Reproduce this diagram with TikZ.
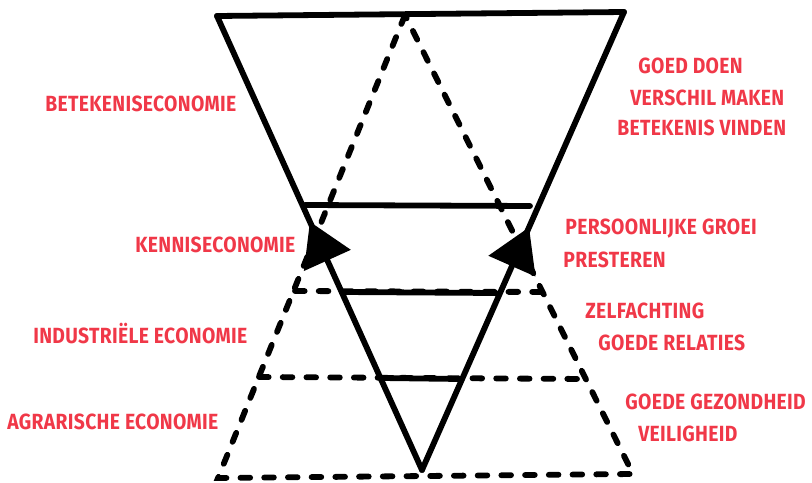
\documentclass[tikz,border=0pt]{standalone}
\usepackage{fontspec}
\setmainfont[FakeStretch=0.88,LetterSpace=1.5]{Fira Sans}
\usetikzlibrary{arrows.meta,decorations.markings}
\definecolor{labelred}{RGB}{240,56,72}
\tikzset{
	solidline/.style={line width=3.3pt, line cap=round, line join=round},
	dashline/.style={line width=3.3pt, line cap=round, dash pattern=on 5.5pt off 8pt},
	label/.style={text=labelred, font=\bfseries\fontsize{12.5}{14}\selectfont, inner sep=0pt, anchor=west},
	uparrow/.style={decoration={markings, mark=at position #1 with {\arrow{Triangle[length=0.85cm,width=1cm]}}}, postaction={decorate}}
}
\begin{document}
\begin{tikzpicture}[x=0.02cm,y=-0.02cm]
		\useasboundingbox (0,0) rectangle (812,483);
		% omgekeerde driehoek
		\coordinate (tl) at (217,16);
		\coordinate (tr) at (624,12);
		\coordinate (bot) at (422,470);
		\draw[solidline] (tl) -- (tr);
		\draw[solidline, uparrow=0.547] (bot) -- (tl);
		\draw[solidline, uparrow=0.53] (bot) -- (tr);
		
		% piramide
		\coordinate (top) at (405,15);
		\coordinate (bl) at (218,478);
		\coordinate (br) at (633,474);
		\draw[dashline] (top) -- (bl) -- (br) -- cycle;
		
		% lagen
		\draw[solidline] (305,205) -- (530,206);
		\draw[dashline] (295,291) -- (545,292);
		\draw[solidline] (343,292) -- (496,293);
		\draw[dashline] (259,377) -- (586,379);
		\draw[solidline] (382,378) -- (460,379);
		
		% links
		\node[label] (betekenis) at (45,104) {BETEKENISECONOMIE};
		\node[label] (kennis) at (135,245) {KENNISECONOMIE};
		\node[label] (industrie) at (33,334) {INDUSTRIËLE ECONOMIE};
		\node[label] (agrarisch) at (7,422) {AGRARISCHE ECONOMIE};
		
		% rechts
		\node[label] (goeddoen) at (638,66) {GOED DOEN};
		\node[label] (verschil) at (630,98) {VERSCHIL MAKEN};
		\node[label] (vinden) at (617,128) {BETEKENIS VINDEN};
		\node[label] (groei) at (565,229) {PERSOONLIJKE GROEI};
		\node[label] (presteren) at (563,260) {PRESTEREN};
		\node[label] (zelf) at (585,311) {ZELFACHTING};
		\node[label] (relaties) at (598,343) {GOEDE RELATIES};
		\node[label] (gezond) at (625,402) {GOEDE GEZONDHEID};
		\node[label] (veilig) at (638,434) {VEILIGHEID};
	\end{tikzpicture}
\end{document}
